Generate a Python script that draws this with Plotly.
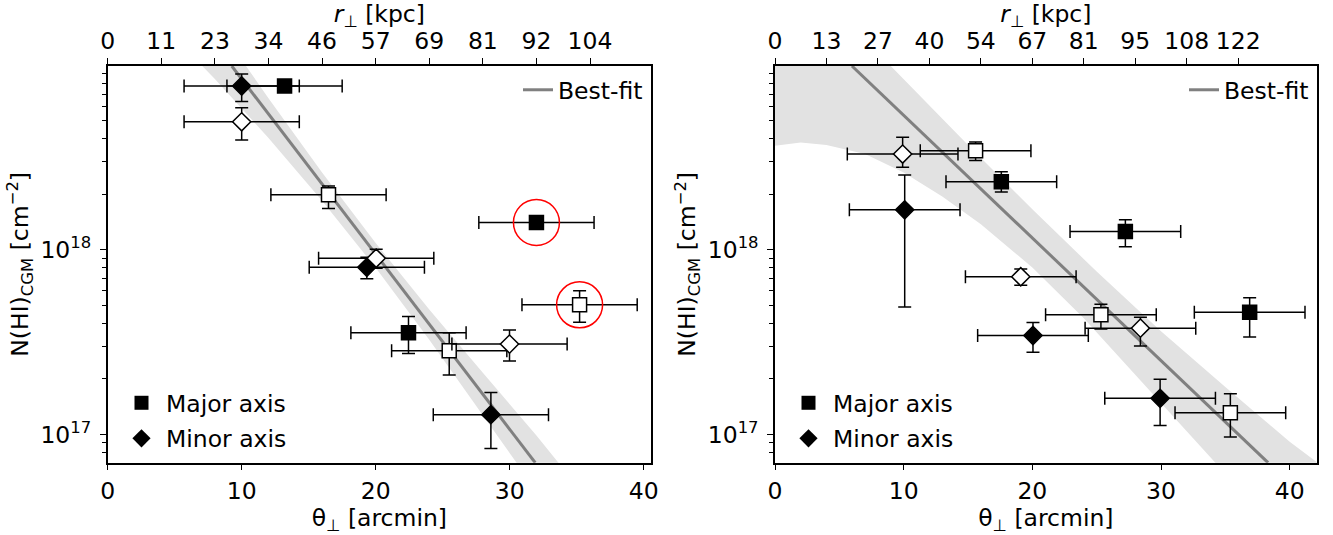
import plotly.graph_objects as go

W, H = 1333, 535
FONT = "DejaVu Sans"

# ------------------------- LEFT PANEL DATA -------------------------
# theta_perp [arcmin], N(HI) [cm^-2]
L_maj_fill_x = [13.2, 22.45, 32.0]
L_maj_fill_y = [7.74e18, 3.56e17, 1.41e18]
L_maj_fill_ehi = [0.55e18, 0.80e17, 0.10e18]
L_maj_fill_elo = [0.52e18, 0.81e17, 0.09e18]
L_maj_fill_xe = [4.3, 4.3, 4.3]

L_maj_open_x = [16.48, 25.49, 35.22]
L_maj_open_y = [1.99e18, 2.84e17, 5.04e17]
L_maj_open_ehi = [0.23e18, 0.72e17, 0.97e17]
L_maj_open_elo = [0.31e18, 0.74e17, 0.98e17]
L_maj_open_xe = [4.3, 4.3, 4.3]

L_min_fill_x = [10.0, 19.34, 28.6]
L_min_fill_y = [7.74e18, 8.05e17, 1.28e17]
L_min_fill_ehi = [1.25e18, 1.07e17, 0.41e17]
L_min_fill_elo = [1.37e18, 1.07e17, 0.44e17]
L_min_fill_xe = [4.3, 4.3, 4.3]

L_min_open_x = [10.0, 20.04, 29.99]
L_min_open_y = [4.95e18, 9.02e17, 3.09e17]
L_min_open_ehi = [0.95e18, 1.07e17, 0.59e17]
L_min_open_elo = [1.01e18, 1.07e17, 0.59e17]
L_min_open_xe = [4.3, 4.3, 4.3]

L_circled_x = [32.0, 35.22]
L_circled_y = [1.41e18, 5.04e17]

L_fit_x = [9.26, 31.91]
L_fit_y = [9.93e18, 7.03e16]
L_band_x = [6, 8, 12, 16, 20, 24, 28, 32, 36]
L_band_hi = [2.80e19, 1.71e19, 6.64e18, 2.63e18, 1.09e18, 4.76e17, 2.16e17, 9.86e16, 4.32e16]
L_band_lo = [1.19e19, 8.45e18, 4.05e18, 1.85e18, 8.00e17, 3.26e17, 1.27e17, 4.83e16, 1.93e16]

L_top_tickvals = [0, 4, 8, 12, 16, 20, 24, 28, 32, 36]
L_top_ticktext = ["0", "11", "23", "34", "46", "57", "69", "81", "92", "104"]

# ------------------------- RIGHT PANEL DATA -------------------------
R_maj_fill_x = [17.59, 27.23, 36.89]
R_maj_fill_y = [2.34e18, 1.26e18, 4.59e17]
R_maj_fill_ehi = [0.31e18, 0.20e18, 0.92e17]
R_maj_fill_elo = [0.28e18, 0.22e18, 1.22e17]
R_maj_fill_xe = [4.3, 4.3, 4.3]

R_maj_open_x = [15.59, 25.33, 35.39]
R_maj_open_y = [3.45e18, 4.45e17, 1.31e17]
R_maj_open_ehi = [0.40e18, 0.63e17, 0.35e17]
R_maj_open_elo = [0.40e18, 0.72e17, 0.34e17]
R_maj_open_xe = [4.3, 4.3, 4.3]

R_min_fill_x = [10.08, 20.05, 29.93]
R_min_fill_y = [1.65e18, 3.44e17, 1.57e17]
R_min_fill_ehi = [0.90e18, 0.60e17, 0.42e17]
R_min_fill_elo = [1.16e18, 0.65e17, 0.45e17]
R_min_fill_xe = [4.3, 4.3, 4.3]

R_min_open_x = [9.92, 19.1, 28.4]
R_min_open_y = [3.31e18, 7.16e17, 3.77e17]
R_min_open_ehi = [0.77e18, 0.73e17, 0.55e17]
R_min_open_elo = [0.50e18, 0.72e17, 0.75e17]
R_min_open_xe = [4.3, 4.3, 4.3]

R_fit_x = [5.98, 38.32]
R_fit_y = [9.93e18, 7.03e16]
R_band_hi_x = [0, 5, 9, 15, 20, 25, 30, 35, 40, 42.5]
R_band_hi = [5.01e19, 1.86e19, 9.93e18, 3.70e18, 1.66e18, 7.64e17, 3.63e17, 1.81e17, 9.12e16, 6.76e16]
R_band_lo_x = [0, 2, 4, 7, 10, 13, 16, 20, 24, 28, 32, 36, 40]
R_band_lo = [3.67e18, 3.82e18, 3.71e18, 3.31e18, 2.63e18, 1.95e18, 1.38e18, 8.04e17,
             4.26e17, 2.10e17, 1.04e17, 5.14e16, 2.54e16]

R_top_tickvals = [0, 4, 8, 12, 16, 20, 24, 28, 32, 36]
R_top_ticktext = ["0", "13", "27", "40", "54", "67", "81", "95", "108", "122"]

Y_TICKVALS = [1e17, 1e18]
Y_TICKTEXT = ["10<sup>17</sup>", "10<sup>18</sup>"]
Y_MINOR = [8e16, 9e16] + [k * 1e17 for k in range(2, 10)] + [k * 1e18 for k in range(2, 10)]

# ------------------------- FIGURE -------------------------
fig = go.Figure()

BAND_COLOR = "#e2e2e2"
LINE_COLOR = "#808080"


def add_panel(xa, xtop_id, ya, band_x_lo, band_lo, band_x_hi, band_hi, fit_x, fit_y, groups, circled,
              leg_fit, leg_pts, top_ticks):
    # confidence band
    fig.add_trace(go.Scatter(
        x=list(band_x_lo) + list(band_x_hi)[::-1],
        y=list(band_lo) + list(band_hi)[::-1],
        fill="toself", fillcolor=BAND_COLOR, mode="lines", line=dict(width=0),
        hoverinfo="skip", showlegend=False, xaxis=xa, yaxis=ya))
    # best fit line
    fig.add_trace(go.Scatter(
        x=fit_x, y=fit_y, mode="lines", line=dict(color=LINE_COLOR, width=3),
        name="Best-fit", showlegend=True, legend=leg_fit, xaxis=xa, yaxis=ya))
    # data
    for (gx, gy, ehi, elo, xe, sym, filled) in groups:
        fig.add_trace(go.Scatter(
            x=gx, y=gy, mode="markers",
            marker=dict(symbol=sym, size=14, color="black" if filled else "white",
                        line=dict(color="black", width=1.5)),
            error_y=dict(type="data", array=ehi, arrayminus=elo, symmetric=False,
                         color="black", thickness=1.5, width=6.5),
            error_x=dict(type="data", array=xe, color="black", thickness=1.5, width=6.5),
            showlegend=False, xaxis=xa, yaxis=ya))
    if circled is not None:
        fig.add_trace(go.Scatter(
            x=circled[0], y=circled[1], mode="markers",
            marker=dict(symbol="circle-open", size=46, color="red", line=dict(color="red", width=1.5)),
            showlegend=False, xaxis=xa, yaxis=ya))
    # legend entries
    fig.add_trace(go.Scatter(x=[None], y=[None], mode="markers", name="Major axis",
                             marker=dict(symbol="square", size=14, color="black"),
                             legend=leg_pts, legendgroup=leg_pts + "a", xaxis=xa, yaxis=ya))
    fig.add_trace(go.Scatter(x=[None], y=[None], mode="markers", name="Minor axis",
                             marker=dict(symbol="diamond", size=14, color="black"),
                             legend=leg_pts, legendgroup=leg_pts + "b", xaxis=xa, yaxis=ya))
    # invisible anchor so the top (r_perp) axis is drawn
    fig.add_trace(go.Scatter(x=top_ticks, y=[1e18] * len(top_ticks), mode="markers",
                             marker=dict(opacity=0, size=1), hoverinfo="skip", showlegend=False,
                             xaxis=xtop_id, yaxis=ya))


add_panel("x", "x3", "y", L_band_x, L_band_lo, L_band_x, L_band_hi, L_fit_x, L_fit_y,
          [(L_maj_fill_x, L_maj_fill_y, L_maj_fill_ehi, L_maj_fill_elo, L_maj_fill_xe, "square", True),
           (L_maj_open_x, L_maj_open_y, L_maj_open_ehi, L_maj_open_elo, L_maj_open_xe, "square", False),
           (L_min_fill_x, L_min_fill_y, L_min_fill_ehi, L_min_fill_elo, L_min_fill_xe, "diamond", True),
           (L_min_open_x, L_min_open_y, L_min_open_ehi, L_min_open_elo, L_min_open_xe, "diamond", False)],
          (L_circled_x, L_circled_y), "legend", "legend2", L_top_tickvals)

add_panel("x2", "x4", "y2", R_band_lo_x, R_band_lo, R_band_hi_x, R_band_hi, R_fit_x, R_fit_y,
          [(R_maj_fill_x, R_maj_fill_y, R_maj_fill_ehi, R_maj_fill_elo, R_maj_fill_xe, "square", True),
           (R_maj_open_x, R_maj_open_y, R_maj_open_ehi, R_maj_open_elo, R_maj_open_xe, "square", False),
           (R_min_fill_x, R_min_fill_y, R_min_fill_ehi, R_min_fill_elo, R_min_fill_xe, "diamond", True),
           (R_min_open_x, R_min_open_y, R_min_open_ehi, R_min_open_elo, R_min_open_xe, "diamond", False)],
          None, "legend3", "legend4", R_top_tickvals)

# ------------------------- AXES -------------------------
Y_DOMAIN = [(H - 462.7) / H, (H - 66) / H]
L_DOM = [107.7 / W, 651 / W]
R_DOM = [775 / W, 1316.7 / W]
L_RANGE = [0, 40.55]
R_RANGE = [0, 42.1]
Y_RANGE = [16.847, 18.997]

FS = 23.5
tickfont = dict(family=FONT, size=FS, color="black")
titlefont = dict(family=FONT, size=FS, color="black")
Y_TITLE = "N(HI)<sub>CGM</sub> [cm<sup>−2</sup>]"


def xbottom(dom, rng, anchor):
    return dict(domain=dom, range=rng, autorange=False, anchor=anchor, automargin=False,
                showgrid=False, zeroline=False, showline=True,
                linecolor="black", linewidth=1.5, ticks="outside", ticklen=6, tickwidth=1.3,
                tickcolor="black", tickvals=[0, 10, 20, 30, 40], tickfont=tickfont,
                title=dict(text="θ<sub>⊥</sub> [arcmin]", font=titlefont, standoff=0))


def xtop(over, anchor, rng, tv, tt):
    return dict(overlaying=over, anchor=anchor, side="top", range=rng, autorange=False,
                automargin=False, showgrid=False,
                zeroline=False, showline=True, linecolor="black", linewidth=1.5,
                ticks="outside", ticklen=6, tickwidth=1.3, tickcolor="black",
                tickvals=tv, ticktext=tt, tickfont=tickfont,
                title=dict(text="<i>r</i><sub>⊥</sub> [kpc]", font=titlefont, standoff=7))


def yaxis(anchor):
    return dict(anchor=anchor, domain=Y_DOMAIN, type="log", range=Y_RANGE, autorange=False,
                automargin=False, showgrid=False,
                zeroline=False, showline=True, mirror=True, linecolor="black", linewidth=1.5,
                ticks="outside", ticklen=6, tickwidth=1.3, tickcolor="black",
                tickvals=Y_TICKVALS, ticktext=Y_TICKTEXT, tickfont=tickfont, ticklabelstandoff=4,
                minor=dict(tickvals=Y_MINOR, ticks="outside", ticklen=4, tickwidth=1.1,
                           tickcolor="black", showgrid=False),
                title=dict(text=Y_TITLE, font=titlefont, standoff=5))


legfont = dict(family=FONT, size=FS, color="black")
fig.update_layout(
    width=W, height=H, margin=dict(l=0, r=0, t=0, b=0, autoexpand=False),
    paper_bgcolor="white", plot_bgcolor="white",
    font=dict(family=FONT, size=FS, color="black"),
    xaxis=xbottom(L_DOM, L_RANGE, "y"), yaxis=yaxis("x"),
    xaxis2=xbottom(R_DOM, R_RANGE, "y2"), yaxis2=yaxis("x2"),
    xaxis3=xtop("x", "y", L_RANGE, L_top_tickvals, L_top_ticktext),
    xaxis4=xtop("x2", "y2", R_RANGE, R_top_tickvals, R_top_ticktext),
    legend=dict(x=648 / W, y=(H - 68) / H, xanchor="right", yanchor="top",
                bgcolor="rgba(0,0,0,0)", font=legfont),
    legend2=dict(x=117 / W, y=(H - 381) / H, xanchor="left", yanchor="top", itemwidth=39,
                 bgcolor="rgba(0,0,0,0)", font=legfont, tracegroupgap=2),
    legend3=dict(x=1314 / W, y=(H - 68) / H, xanchor="right", yanchor="top",
                 bgcolor="rgba(0,0,0,0)", font=legfont),
    legend4=dict(x=784 / W, y=(H - 381) / H, xanchor="left", yanchor="top", itemwidth=39,
                 bgcolor="rgba(0,0,0,0)", font=legfont, tracegroupgap=2),
)

fig.write_html("out.html")
